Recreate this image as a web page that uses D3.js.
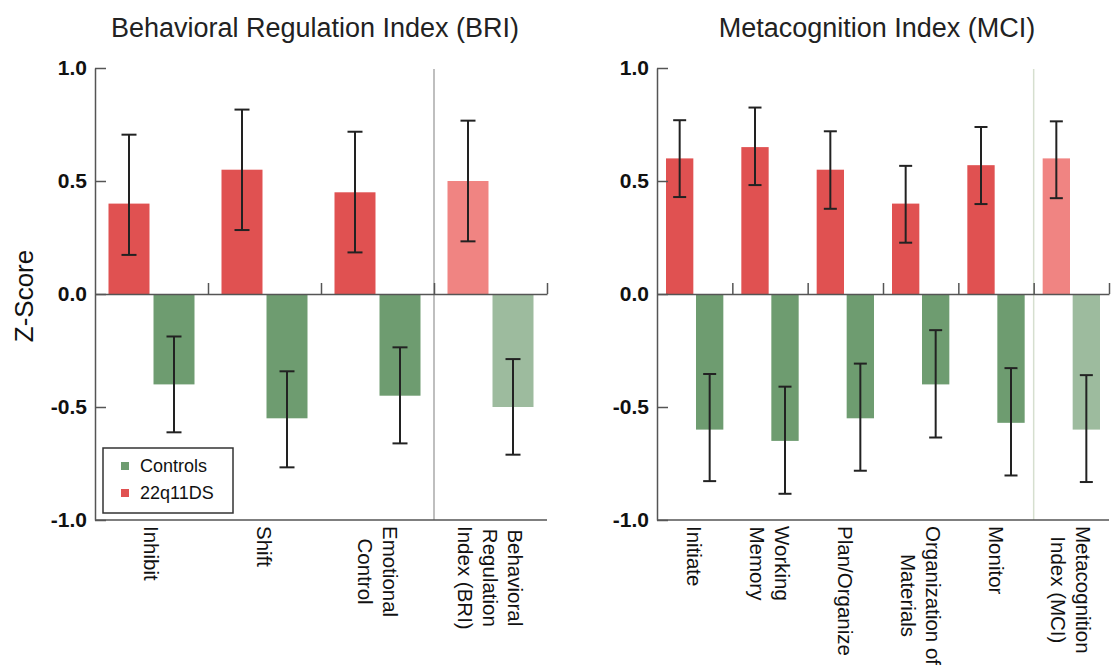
<!DOCTYPE html>
<html>
<head>
<meta charset="utf-8">
<script src="https://cdn.jsdelivr.net/npm/d3@7"></script>
<style>
  html, body { margin: 0; padding: 0; background: #fff; }
  text { font-family: "Liberation Sans", Arial, Helvetica, sans-serif; }
</style>
</head>
<body>
<svg id="chart" width="1111" height="671"></svg>
<script>
// ---------- DATA ----------
const briCategories = ["Inhibit", "Shift", "Emotional\nControl", "Behavioral\nRegulation\nIndex (BRI)"];
const briDS      = [0.40, 0.55, 0.45, 0.50];
const briDSLo    = [0.173, 0.283, 0.184, 0.233];
const briDSHi    = [0.705, 0.816, 0.718, 0.767];
const briCtrl    = [-0.40, -0.55, -0.45, -0.50];
const briCtrlLo  = [-0.612, -0.767, -0.661, -0.711];
const briCtrlHi  = [-0.188, -0.342, -0.236, -0.288];

const mciCategories = ["Initiate", "Working\nMemory", "Plan/Organize", "Organization of\nMaterials", "Monitor", "Metacognition\nIndex (MCI)"];
const mciDS      = [0.60, 0.65, 0.55, 0.40, 0.57, 0.60];
const mciDSLo    = [0.429, 0.482, 0.377, 0.227, 0.398, 0.424];
const mciDSHi    = [0.769, 0.825, 0.720, 0.567, 0.739, 0.764];
const mciCtrl    = [-0.60, -0.65, -0.55, -0.40, -0.57, -0.60];
const mciCtrlLo  = [-0.828, -0.884, -0.782, -0.635, -0.803, -0.832];
const mciCtrlHi  = [-0.354, -0.410, -0.308, -0.160, -0.328, -0.359];

const yTicks = [-1.0, -0.5, 0.0, 0.5, 1.0];
const yTickLabels = ["-1.0", "-0.5", "0.0", "0.5", "1.0"];
const groups = ["22q11DS", "Controls"];
const legendLabels = ["Controls", "22q11DS"];
const titles = ["Behavioral Regulation Index (BRI)", "Metacognition Index (MCI)"];

// ---------- STYLE ----------
const colRed = "#e05151", colGreen = "#6e9c70";
const colRedLight = "#f08482", colGreenLight = "#9dbb9e";

const svg = d3.select("#chart");
const y = d3.scaleLinear().domain([-1, 1]).range([520, 68]);

function panel(opts) {
  const { x0, x1, cats, ds, dsLo, dsHi, ct, ctLo, ctHi, title, sepColor, cap } = opts;
  const g = svg.append("g");
  const n = cats.length;
  const x = d3.scaleBand().domain(d3.range(n)).range([x0, x1]).padding(0);
  const xs = d3.scaleBand().domain(groups).range([0, x.bandwidth()]).paddingInner(0.089).paddingOuter(0.3);
  const isSummary = i => i === n - 1;

  g.append("line")
    .attr("x1", x(n - 1)).attr("x2", x(n - 1))
    .attr("y1", y(1) + 1).attr("y2", y(-1))
    .attr("stroke", sepColor).attr("stroke-width", 1.5);

  const rows = d3.range(n).map(i => ({
    i,
    vals: [
      { grp: "22q11DS", v: ds[i], lo: dsLo[i], hi: dsHi[i] },
      { grp: "Controls", v: ct[i], lo: ctLo[i], hi: ctHi[i] }
    ]
  }));

  const cg = g.selectAll("g.cat").data(rows).join("g")
    .attr("class", "cat")
    .attr("transform", d => `translate(${x(d.i)},0)`);

  cg.selectAll("rect").data(d => d.vals.map(v => ({ ...v, i: d.i }))).join("rect")
    .attr("x", d => xs(d.grp))
    .attr("width", xs.bandwidth())
    .attr("y", d => y(Math.max(0, d.v)))
    .attr("height", d => Math.abs(y(d.v) - y(0)))
    .attr("fill", d => d.grp === "22q11DS"
      ? (isSummary(d.i) ? colRedLight : colRed)
      : (isSummary(d.i) ? colGreenLight : colGreen));

  const eb = cg.selectAll("g.err").data(d => d.vals).join("g").attr("class", "err");
  eb.append("line")
    .attr("x1", d => xs(d.grp) + xs.bandwidth() / 2)
    .attr("x2", d => xs(d.grp) + xs.bandwidth() / 2)
    .attr("y1", d => y(d.lo)).attr("y2", d => y(d.hi));
  eb.append("line")
    .attr("x1", d => xs(d.grp) + xs.bandwidth() / 2 - cap / 2)
    .attr("x2", d => xs(d.grp) + xs.bandwidth() / 2 + cap / 2)
    .attr("y1", d => y(d.lo)).attr("y2", d => y(d.lo));
  eb.append("line")
    .attr("x1", d => xs(d.grp) + xs.bandwidth() / 2 - cap / 2)
    .attr("x2", d => xs(d.grp) + xs.bandwidth() / 2 + cap / 2)
    .attr("y1", d => y(d.hi)).attr("y2", d => y(d.hi));
  eb.selectAll("line").attr("stroke", "#222").attr("stroke-width", 2);

  const zeroAxis = d3.axisTop(d3.scaleLinear().domain([0, n]).range([x0, x1]))
    .tickValues(d3.range(1, n + 1)).tickSizeInner(11).tickSizeOuter(0).tickFormat("");
  g.append("g").attr("transform", `translate(0,${y(0)})`).call(zeroAxis)
    .call(s => s.selectAll("path,line").attr("stroke", "#555").attr("stroke-width", 1.5));

  g.append("line").attr("x1", x0).attr("x2", x1).attr("y1", y(-1)).attr("y2", y(-1))
    .attr("stroke", "#555").attr("stroke-width", 1.5);

  const yAxis = d3.axisLeft(y).tickValues(yTicks)
    .tickFormat((d, i) => yTickLabels[i])
    .tickSizeInner(-11).tickSizeOuter(0).tickPadding(8);
  g.append("g").attr("transform", `translate(${x0},0)`).call(yAxis)
    .call(s => s.selectAll("path,line").attr("stroke", "#555").attr("stroke-width", 1.5))
    .call(s => s.selectAll("text").attr("font-size", 21).attr("font-weight", "bold")
      .attr("fill", "#111").attr("font-family", "'Liberation Sans', Arial, sans-serif"));

  cats.forEach((c, i) => {
    const lines = c.split("\n");
    const cx = x(i) + x.bandwidth() / 2;
    const top = y(-1) + 6;
    const lg = g.append("g");
    const texts = lines.map((ln, k) => lg.append("text").text(ln)
      .attr("font-size", 20.5).attr("fill", "#111"));
    const maxLen = d3.max(texts, t => t.node().getComputedTextLength());
    const mid = top + maxLen / 2;
    const nl = lines.length;
    texts.forEach((t, k) => {
      const off = ((nl - 1) / 2 - k) * 25;
      t.attr("text-anchor", "middle")
        .attr("dominant-baseline", "central")
        .attr("transform", `translate(${cx + off},${mid}) rotate(90)`);
    });
  });

  g.append("text").text(title)
    .attr("x", (x0 + x1) / 2 - 6).attr("y", 37)
    .attr("text-anchor", "middle").attr("font-size", 27).attr("fill", "#222");
}

panel({ x0: 95, x1: 547, cats: briCategories, ds: briDS, dsLo: briDSLo, dsHi: briDSHi,
  ct: briCtrl, ctLo: briCtrlLo, ctHi: briCtrlHi, title: titles[0], sepColor: "#aaaaaa", cap: 15 });
panel({ x0: 657, x1: 1109, cats: mciCategories, ds: mciDS, dsLo: mciDSLo, dsHi: mciDSHi,
  ct: mciCtrl, ctLo: mciCtrlLo, ctHi: mciCtrlHi, title: titles[1], sepColor: "#d6dfcf", cap: 13 });

svg.append("text").text("Z-Score")
  .attr("transform", "translate(33,296) rotate(-90)")
  .attr("text-anchor", "middle").attr("font-size", 26).attr("fill", "#111");

const lg = svg.append("g");
lg.append("rect").attr("x", 103).attr("y", 448).attr("width", 130).attr("height", 65)
  .attr("fill", "#fff").attr("stroke", "#333").attr("stroke-width", 1.5);
const legColor = d3.scaleOrdinal().domain(legendLabels).range([colGreen, colRed]);
legendLabels.forEach((lab, i) => {
  const yy = 466 + i * 27;
  lg.append("rect").attr("x", 121).attr("y", yy - 4).attr("width", 8).attr("height", 8)
    .attr("fill", legColor(lab));
  lg.append("text").text(lab).attr("x", 140).attr("y", yy).attr("dominant-baseline", "central")
    .attr("font-size", 18).attr("fill", "#111");
});
</script>
</body>
</html>
